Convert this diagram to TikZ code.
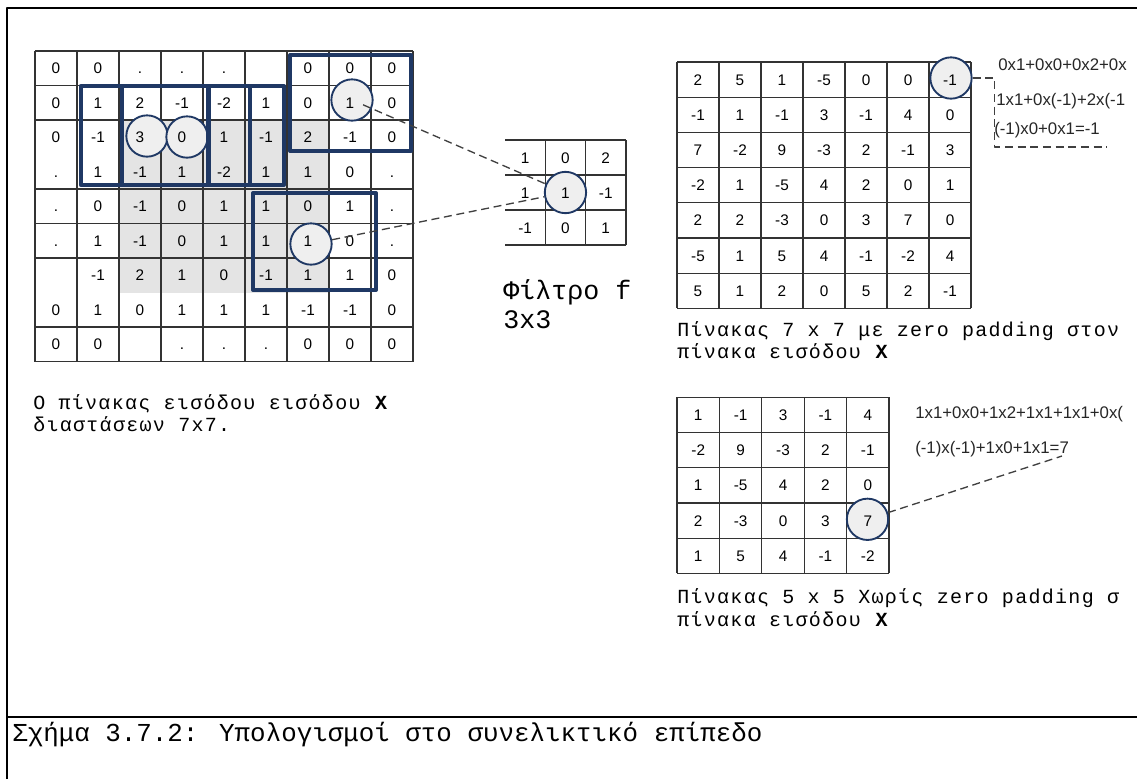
\documentclass[tikz,border=0pt]{standalone}
\usepackage{fontspec}
\setmainfont{Liberation Sans}
\newfontfamily\capfont{Liberation Mono}
\newfontfamily\capwidefont[LetterSpace=6.5]{Liberation Mono}
\usetikzlibrary{calc}

\definecolor{winblue}{HTML}{1F3864}
\definecolor{cellgray}{HTML}{E4E4E4}
\definecolor{ringgray}{HTML}{EFEFEF}
\newcommand{\padot}{.}

\tikzset{
  num/.style={font=\fontsize{11.5}{13}\selectfont, inner sep=0pt,
              text height=8.3pt, text depth=0pt},
  grid line/.style={line width=0.9pt, black!80},
  win box/.style={draw=winblue, line width=3pt},
  ring/.style={circle, draw=winblue, line width=1.4pt, fill=ringgray,
               minimum size=31pt, inner sep=0pt},
  link/.style={dash pattern=on 6pt off 3.5pt, line width=1pt, black!75},
  captext/.style={font=\capwidefont\fontsize{15}{17}\selectfont, anchor=base west, inner sep=0pt},
  calc line/.style={font=\fontsize{12.6}{14}\selectfont, anchor=west, inner sep=0pt, black!85},
}

\begin{document}
\begin{tikzpicture}[x=0.75pt, y=-0.75pt, line join=round]
        \useasboundingbox (0,0) rectangle (1137,779);
        \clip (0,0) rectangle (1137,779);
        \draw[line width=2.2pt] (7,779) -- (7,8) -- (1137,8);
        \draw[line width=2.2pt] (7,717) -- (1137,717);
        % input X, padded
        \begin{scope}[shift={(35,51)}]
            \pgfmathsetmacro{\cellw}{42}
            \pgfmathsetmacro{\cellh}{34.5}
            \fill[cellgray] (2*\cellw,2*\cellh) rectangle (7*\cellw,7*\cellh);
            \foreach \k in {0,...,9}
                \draw[grid line] (\k*\cellw,0) -- (\k*\cellw,9*\cellh);
            \foreach \k in {0,1,2,4,5,6,8,9}
                \draw[grid line] (0,\k*\cellh) -- (9*\cellw,\k*\cellh);
            \node[ring] (rin3) at (112,85) {};
            \node[ring] (rin0) at (152,86) {};
            \node[ring] (rtop) at (317,49) {};
            \node[ring] (rlow) at (276,193) {};
            \foreach \row [count=\ri] in {
                {0,0,\padot,\padot,\padot,{},0,0,0},
                {0,1,2,-1,-2,1,0,1,0},
                {0,-1,3,0,1,-1,2,-1,0},
                {\padot,1,-1,1,-2,1,1,0,\padot},
                {\padot,0,-1,0,1,1,0,1,\padot},
                {\padot,1,-1,0,1,1,1,0,\padot},
                {{},-1,2,1,0,-1,1,1,0},
                {0,1,0,1,1,1,-1,-1,0},
                {0,0,{},\padot,\padot,\padot,0,0,0}}
                \foreach \v [count=\ci] in \row
                    \node[num] (x-\ri-\ci) at ({(\ci-0.5)*\cellw},{(\ri-0.5)*\cellh}) {\v};
            \draw[win box] (45.7,35) rectangle (173,134);
            \draw[win box] (87.3,35) rectangle (215,134);
            \draw[win box] (174,35) rectangle (249,134);
            \draw[win box] (255,4) rectangle (376,100);
            \draw[win box] (218,142) rectangle (341,239);
        \end{scope}
        % filter f
        \begin{scope}[shift={(505,140)}]
            \pgfmathsetmacro{\cellw}{40.3}
            \pgfmathsetmacro{\cellh}{35}
            \foreach \k in {1,2,3}
                \draw[grid line] (\k*\cellw,0) -- (\k*\cellw,3*\cellh);
            \foreach \k in {0,...,3}
                \draw[grid line] (0,\k*\cellh) -- (3*\cellw,\k*\cellh);
            \node[ring] (rfil) at (1.5*\cellw,1.5*\cellh) {};
            \foreach \row [count=\ri] in {{1,0,2},{1,1,-1},{-1,0,1}}
                \foreach \v [count=\ci] in \row
                    \node[num] (f-\ri-\ci) at ({(\ci-0.5)*\cellw},{(\ri-0.5)*\cellh}) {\v};
        \end{scope}
        % 7x7 output, zero padding
        \begin{scope}[shift={(677,62)}]
            \pgfmathsetmacro{\cellw}{42}
            \pgfmathsetmacro{\cellh}{35.2}
            \foreach \k in {0,...,7}
                \draw[grid line] (\k*\cellw,0) -- (\k*\cellw,7*\cellh);
            \foreach \k in {0,...,7}
                \draw[grid line] (0,\k*\cellh) -- (7*\cellw,\k*\cellh);
            \node[ring] (rpad) at (274,16) {};
            \foreach \row [count=\ri] in {
                {2,5,1,-5,0,0,-1},
                {-1,1,-1,3,-1,4,0},
                {7,-2,9,-3,2,-1,3},
                {-2,1,-5,4,2,0,1},
                {2,2,-3,0,3,7,0},
                {-5,1,5,4,-1,-2,4},
                {5,1,2,0,5,2,-1}}
                \foreach \v [count=\ci] in \row
                    \node[num] (p-\ri-\ci) at ({(\ci-0.5)*\cellw},{(\ri-0.5)*\cellh}) {\v};
        \end{scope}
        % 5x5 output, no padding
        \begin{scope}[shift={(677,397.3)}]
            \pgfmathsetmacro{\cellw}{42.4}
            \pgfmathsetmacro{\cellh}{35.2}
            \foreach \k in {0,...,5}
                \draw[grid line] (\k*\cellw,0) -- (\k*\cellw,5*\cellh);
            \foreach \k in {0,...,5}
                \draw[grid line] (0,\k*\cellh) -- (5*\cellw,\k*\cellh);
            \node[ring] (rval) at (190.5,122) {};
            \foreach \row [count=\ri] in {
                {1,-1,3,-1,4},
                {-2,9,-3,2,-1},
                {1,-5,4,2,0},
                {2,-3,0,3,7},
                {1,5,4,-1,-2}}
                \foreach \v [count=\ci] in \row
                    \node[num] (v-\ri-\ci) at ({(\ci-0.5)*\cellw},{(\ri-0.5)*\cellh}) {\v};
        \end{scope}
        \node[calc line] (ct1) at (998,65) {0x1+0x0+0x2+0x};
        \node[calc line] (ct2) at (996,101) {1x1+0x(-1)+2x(-1};
        \node[calc line] (ct3) at (994,130) {(-1)x0+0x1=-1};
        \node[calc line] (cb1) at (915,414) {1x1+0x0+1x2+1x1+1x1+0x(};
        \node[calc line] (cb2) at (915,449) {(-1)x(-1)+1x0+1x1=7};
        \coordinate (bracketEnd) at (1107,147);
        \coordinate (calcTip) at (1062,456);
        \draw[link, shorten <=9pt] (rtop.center) -- (rfil);
        \draw[link] (rlow) -- (rfil);
        \draw[link] (rpad.east) -- ++(22,0) |- (bracketEnd);
        \draw[link] (rval) -- (calcTip);
        \node[captext] (capX1) at (33,409) {Ο πίνακας εισόδου εισόδου \textbf{X}};
        \node[captext] (capX2) at (33,431) {διαστάσεων 7x7.};
        \node[captext, font=\capfont\fontsize{20}{24}\selectfont] (capF1) at (503,299) {Φίλτρο f};
        \node[captext, font=\capfont\fontsize{20}{24}\selectfont] (capF2) at (503,328) {3x3};
        \node[captext] (capP1) at (677,336) {Πίνακας 7 x 7 με zero padding στον};
        \node[captext] (capP2) at (677,358) {πίνακα εισόδου \textbf{X}};
        \node[captext] (capV1) at (677,603) {Πίνακας 5 x 5 Χωρίς zero padding σ};
        \node[captext] (capV2) at (677,626) {πίνακα εισόδου \textbf{X}};
        \node[captext, font=\capfont\fontsize{19.4}{22}\selectfont] (figcap) at (12,741)
            {Σχήμα 3.7.2: Υπολογισμοί στο συνελικτικό επίπεδο};
    \end{tikzpicture}
\end{document}
